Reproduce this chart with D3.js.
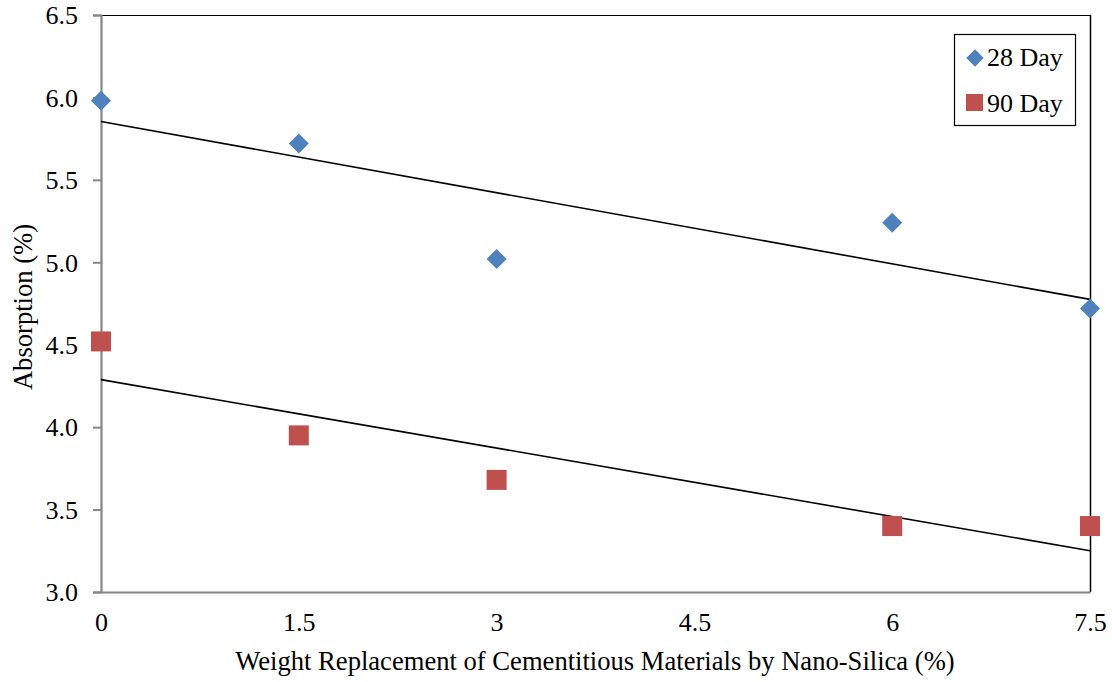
<!DOCTYPE html>
<html><head><meta charset="utf-8">
<script src="https://cdn.jsdelivr.net/npm/d3@7"></script>
<style>body{margin:0;background:#fff}svg{display:block}</style>
</head><body><svg id="c" width="1112" height="682"></svg>
<script>
const xValues = [0, 1.5, 3, 6, 7.5];
const day28 = [5.98, 5.72, 5.02, 5.24, 4.72];
const day90 = [4.52, 3.95, 3.68, 3.40, 3.40];
const xTicks = [0, 1.5, 3, 4.5, 6, 7.5];
const yTicks = [3.0, 3.5, 4.0, 4.5, 5.0, 5.5, 6.0, 6.5];
const seriesNames = ["28 Day", "90 Day"];

const FONT = "'Liberation Serif', 'Times New Roman', Times, serif";
const FS = "26px";
const svg = d3.select("#c");
const L = 101, R = 1090, T = 15, B = 592;
const x = d3.scaleLinear().domain([0, 7.5]).range([L, R]);
const y = d3.scaleLinear().domain([3, 6.5]).range([B, T]);

// plot border top/right
svg.append("line").attr("x1", L).attr("x2", R).attr("y1", T + 0.5).attr("y2", T + 0.5).attr("stroke", "#000").attr("stroke-width", 1.2);
svg.append("line").attr("x1", R + 0.5).attr("x2", R + 0.5).attr("y1", T).attr("y2", B).attr("stroke", "#000").attr("stroke-width", 1.5);

// y axis
const yAxis = d3.axisLeft(y).tickValues(yTicks).tickFormat(d3.format(".1f")).tickSize(8).tickPadding(15);
const gy = svg.append("g").attr("transform", `translate(${L},0)`).call(yAxis).attr("font-family", null);
gy.select(".domain").attr("stroke", "#868686").attr("stroke-width", 2.2);
gy.selectAll(".tick line").attr("stroke", "#868686").attr("stroke-width", 2);
gy.selectAll(".tick text").style("font-size", FS).style("font-family", FONT).attr("fill", "#000").attr("dy", "0.34em");

// x axis
const xAxis = d3.axisBottom(x).tickValues(xTicks).tickFormat(d => String(d)).tickSize(0).tickPadding(21);
const gx = svg.append("g").attr("transform", `translate(0,${B})`).call(xAxis).attr("font-family", null);
gx.select(".domain").attr("stroke", "#868686").attr("stroke-width", 2.2);
gx.selectAll(".tick text").style("font-size", FS).style("font-family", FONT).attr("fill", "#000");

// trendlines (least squares)
function fit(xs, ys) {
  const mx = d3.mean(xs), my = d3.mean(ys);
  let sxy = 0, sxx = 0;
  xs.forEach((v, i) => { sxy += (v - mx) * (ys[i] - my); sxx += (v - mx) * (v - mx); });
  const m = sxy / sxx; return { m, b: my - m * mx };
}
[day28, day90].forEach(s => {
  const f = fit(xValues, s);
  const line = d3.line().x(d => x(d)).y(d => y(f.m * d + f.b));
  svg.append("path").attr("d", line([0, 7.5])).attr("stroke", "#000").attr("stroke-width", 1.6).attr("fill", "none");
});

// markers
function diamondPath(cx, cy, r) { return `M${cx},${cy - r}L${cx + r},${cy}L${cx},${cy + r}L${cx - r},${cy}Z`; }
svg.append("g").selectAll("path").data(xValues.map((v, i) => [v, day28[i]])).join("path")
  .attr("d", d => diamondPath(x(d[0]), y(d[1]), 10)).attr("fill", "#4F81BD");
svg.append("g").selectAll("rect").data(xValues.map((v, i) => [v, day90[i]])).join("rect")
  .attr("x", d => x(d[0]) - 10).attr("y", d => y(d[1]) - 10).attr("width", 20).attr("height", 20).attr("fill", "#C0504D");

// legend
const lg = svg.append("g");
lg.append("rect").attr("x", 954.5).attr("y", 34.5).attr("width", 121).attr("height", 91).attr("fill", "#fff").attr("stroke", "#000").attr("stroke-width", 1.2);
lg.append("path").attr("d", diamondPath(975, 58, 8.7)).attr("fill", "#4F81BD");
lg.append("rect").attr("x", 966).attr("y", 94).attr("width", 17).attr("height", 17).attr("fill", "#C0504D");
lg.append("text").attr("x", 987).attr("y", 66).style("font-size", FS).style("font-family", FONT).text(seriesNames[0]);
lg.append("text").attr("x", 987).attr("y", 112).style("font-size", FS).style("font-family", FONT).text(seriesNames[1]);

// titles
svg.append("text").attr("x", 595).attr("y", 670).attr("text-anchor", "middle").style("font-size", "26.6px").style("font-family", FONT)
  .text("Weight Replacement of Cementitious Materials by Nano-Silica (%)");
svg.append("text").attr("transform", "translate(32,307) rotate(-90)").attr("text-anchor", "middle").style("font-size", "26.6px").style("font-family", FONT)
  .text("Absorption (%)");
</script></body></html>
